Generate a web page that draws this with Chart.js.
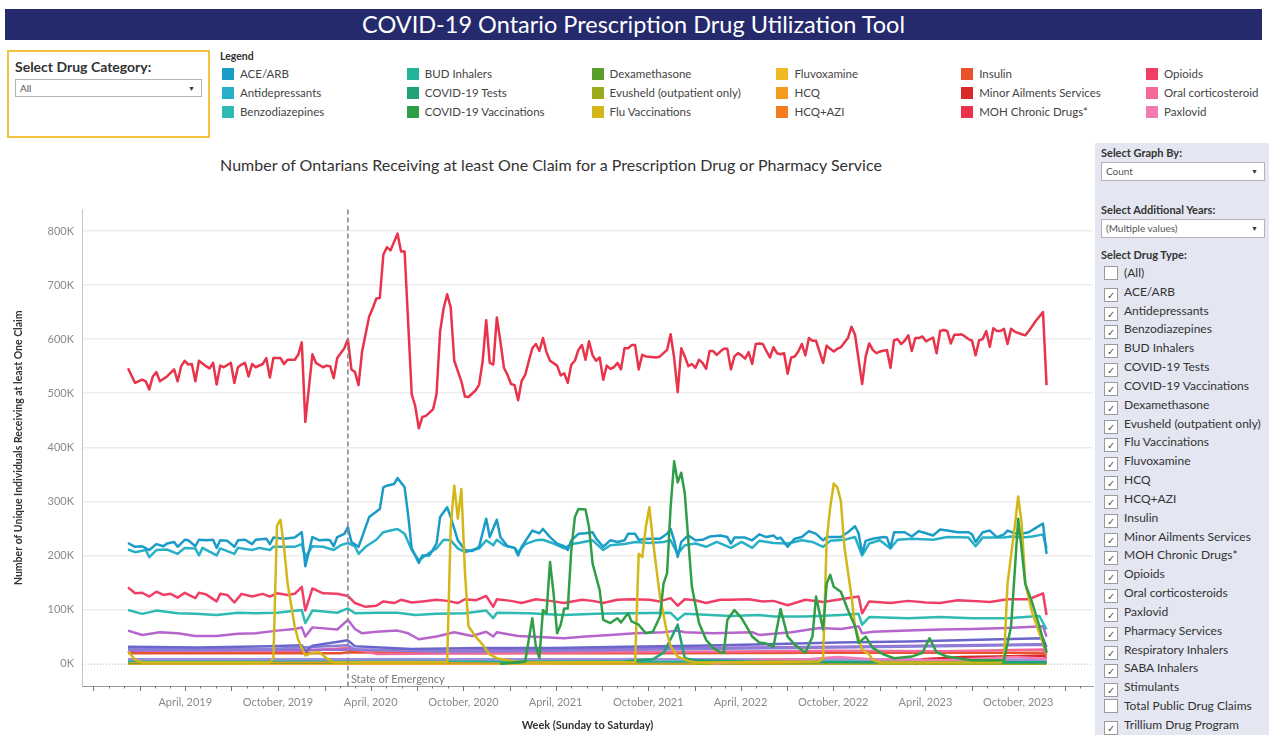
<!DOCTYPE html>
<html>
<head>
<meta charset="utf-8">
<script src="https://cdn.jsdelivr.net/npm/chart.js@4.4.1/dist/chart.umd.min.js"></script>
<style>
  body { margin: 0; width: 1269px; height: 735px; overflow: hidden; background: #fff; font-family: Lato, "Noto Sans", sans-serif; color: #333; position: relative; }
  .abs { position: absolute; }
  #titlebar { left: 5px; top: 9px; width: 1257px; height: 31px; background: #242a6c; color: #fff; font-size: 23.5px; line-height: 31px; text-align: center; }
  #catbox { left: 7px; top: 50px; width: 203px; height: 88px; border: 2px solid #f1c23d; box-sizing: border-box; }
  .drop { background: #fff; border: 1px solid #b4b4b4; box-sizing: border-box; font-size: 10px; color: #555; padding-left: 4px; }
  .drop .arr { position: absolute; right: 6px; top: 0; font-size: 7px; color: #333; }
  .lg { font-size: 11.5px; color: #444; white-space: nowrap; height: 14px; line-height: 14px; }
  .lg i { display: inline-block; width: 12px; height: 12px; vertical-align: -2px; margin-right: 6px; }
  #side { left: 1095px; top: 143px; width: 174px; height: 592px; background: #e4e6f1; }
  .sl { font-size: 11px; font-weight: bold; color: #333; }
  .cb { font-size: 12px; color: #333; white-space: nowrap; height: 16px; line-height: 16px; }
  .cb b { display: inline-block; width: 12px; height: 12px; background: #fff; border: 1px solid #9a9a9a; vertical-align: -3px; margin-right: 6px; font-size: 10px; line-height: 12px; text-align: center; font-weight: normal; color: #555; box-sizing: content-box; }
  #chartTitle { left: 0; width: 1102px; top: 155px; text-align: center; font-size: 16px; color: #333; }
  #wrap { left: 0; top: 195px; width: 1095px; height: 540px; }
</style>
</head>
<body>
<div id="titlebar" class="abs">COVID-19 Ontario Prescription Drug Utilization Tool</div>

<div id="catbox" class="abs"></div>
<div class="abs" style="left:15px;top:58px;font-size:14px;font-weight:bold;color:#333;">Select Drug Category:</div>
<div class="abs drop" style="left:15px;top:79px;width:187px;height:18px;line-height:16px;">All<span class="arr">&#9660;</span></div>

<div class="abs" style="left:220px;top:50px;font-size:10.5px;font-weight:bold;color:#333;">Legend</div>
<div id="legend"></div>

<div id="chartTitle" class="abs">Number of Ontarians Receiving at least One Claim for a Prescription Drug or Pharmacy Service</div>

<div id="wrap" class="abs"><canvas id="chart" width="1095" height="540"></canvas></div>

<div id="side" class="abs"></div>
<div id="sidebar"></div>

<script>
// weekly counts, in thousands of people; x = week number counted from the week of 2018-12-09
const axisOrigin = Date.UTC(2018, 11, 9);
const emergencyWeek = 62;

const mohChronic = [[0,546],[2,519],[4,525],[5,522],[6,507],[7,531],[8,539],[9,522],[11,531],[13,544],[14,522],[15,550],[16,560],[17,553],[18,554],[19,522],[20,560],[22,550],[23,546],[24,556],[25,516],[26,551],[27,548],[29,556],[30,519],[31,548],[32,553],[33,556],[34,531],[35,554],[36,548],[38,554],[39,565],[40,529],[41,565],[43,565],[44,554],[45,562],[47,562],[48,571],[49,594],[50,447],[52,572],[53,556],[55,548],[56,551],[57,550],[58,528],[59,565],[61,583],[62,600],[63,544],[64,539],[65,515],[66,577],[68,642],[69,657],[70,675],[71,676],[72,756],[73,770],[74,764],[76,795],[77,762],[78,762],[80,498],[81,476],[82,435],[83,456],[84,458],[86,470],[87,498],[88,614],[89,657],[90,683],[91,658],[92,560],[94,522],[95,494],[96,493],[97,499],[98,505],[99,516],[100,559],[101,635],[102,556],[103,553],[104,640],[105,596],[106,547],[107,534],[108,517],[109,515],[110,487],[111,523],[112,534],[113,559],[114,583],[115,591],[116,578],[117,602],[118,576],[119,560],[121,551],[122,533],[123,537],[124,519],[125,553],[126,560],[127,580],[128,589],[129,562],[130,596],[131,570],[132,560],[133,566],[134,525],[135,551],[136,545],[137,548],[138,556],[139,544],[140,583],[141,583],[142,589],[143,589],[144,544],[145,571],[146,568],[149,566],[150,568],[152,580],[153,609],[154,565],[155,502],[156,583],[157,568],[158,550],[159,554],[160,547],[161,562],[162,556],[163,545],[164,578],[165,578],[166,571],[167,577],[168,582],[169,582],[170,544],[171,568],[172,574],[173,570],[174,564],[175,576],[176,554],[177,591],[178,592],[179,591],[180,578],[181,566],[182,585],[183,574],[184,572],[185,574],[186,536],[187,566],[188,568],[189,577],[190,591],[191,570],[192,602],[193,597],[194,597],[196,556],[197,588],[198,582],[199,577],[200,582],[201,585],[203,602],[204,623],[205,608],[207,517],[208,568],[209,592],[210,580],[211,574],[212,577],[214,580],[215,547],[216,598],[217,600],[218,591],[219,597],[220,607],[221,578],[222,602],[223,602],[224,605],[225,596],[227,603],[228,574],[229,615],[230,617],[231,615],[232,592],[233,608],[234,608],[235,609],[236,605],[237,600],[238,597],[239,570],[240,598],[241,600],[242,615],[243,586],[244,620],[245,615],[246,615],[247,619],[248,591],[249,619],[250,614],[252,609],[253,607],[254,615],[256,634],[258,650],[259,515]];

const aceArb = [[0,223],[2,216],[4,217],[6,210],[8,221],[10,217],[11,222],[13,225],[14,216],[16,229],[17,228],[19,217],[20,229],[22,228],[24,229],[25,214],[26,228],[28,227],[30,216],[31,228],[33,229],[35,221],[36,229],[39,231],[40,221],[41,233],[44,231],[47,233],[49,243],[50,180],[52,234],[54,228],[56,229],[57,228],[58,217],[59,234],[61,240],[62,252],[63,225],[65,216],[66,234],[68,271],[71,286],[72,326],[73,329],[75,332],[76,343],[78,326],[79,274],[80,213],[82,186],[83,200],[85,200],[87,222],[88,271],[90,289],[91,271],[93,228],[95,210],[97,208],[99,216],[101,268],[102,234],[104,266],[105,234],[107,217],[109,214],[110,200],[111,216],[114,246],[116,241],[117,249],[119,234],[121,222],[123,217],[124,210],[125,228],[127,240],[129,241],[131,243],[132,231],[134,216],[136,228],[138,225],[140,228],[141,240],[143,240],[144,229],[147,231],[150,231],[152,240],[153,249],[154,228],[155,197],[156,225],[158,237],[160,228],[162,229],[164,235],[167,237],[169,234],[170,222],[171,233],[174,233],[176,228],[178,239],[180,234],[182,237],[183,231],[184,233],[186,216],[188,231],[190,234],[192,245],[194,240],[196,228],[197,234],[201,234],[203,243],[205,254],[206,241],[207,203],[208,227],[210,231],[213,234],[214,233],[215,214],[216,243],[219,243],[221,235],[223,245],[225,241],[227,237],[229,248],[231,246],[234,243],[237,243],[238,239],[239,225],[241,243],[243,246],[245,234],[247,239],[248,246],[250,241],[252,240],[254,243],[256,251],[258,259],[259,203]];

const antidepressants = [[0,211],[2,206],[5,210],[6,197],[8,210],[11,211],[14,203],[16,214],[19,213],[20,200],[21,214],[25,200],[26,213],[30,203],[31,214],[35,210],[37,214],[40,210],[41,216],[47,216],[49,221],[50,197],[52,217],[55,216],[58,210],[60,219],[62,223],[64,217],[65,203],[67,216],[70,229],[72,243],[74,246],[76,249],[78,240],[80,210],[82,191],[85,205],[87,213],[89,229],[91,228],[93,213],[95,206],[97,210],[99,213],[101,228],[103,219],[104,229],[106,219],[109,214],[110,206],[112,221],[115,228],[117,229],[120,222],[123,213],[125,221],[127,223],[131,228],[134,210],[136,219],[140,221],[143,225],[147,223],[151,225],[153,228],[155,203],[157,219],[160,222],[163,216],[166,225],[170,214],[173,225],[176,214],[178,227],[182,223],[186,222],[190,228],[193,225],[196,216],[198,227],[202,229],[205,234],[207,200],[209,222],[212,228],[215,213],[217,229],[221,231],[227,229],[231,234],[237,233],[239,217],[241,233],[247,233],[249,235],[252,233],[255,235],[258,239],[259,213]];

const opioids = [[0,141],[2,130],[4,131],[6,124],[8,133],[10,127],[12,129],[14,122],[16,131],[19,121],[20,131],[22,128],[25,115],[26,129],[28,127],[30,113],[32,129],[35,124],[38,129],[40,124],[42,130],[45,127],[47,129],[49,142],[50,98],[52,139],[55,130],[59,129],[62,125],[64,112],[67,105],[70,107],[72,115],[75,112],[77,118],[80,113],[83,115],[87,118],[90,116],[93,112],[95,119],[98,117],[101,125],[103,105],[104,119],[108,116],[111,112],[115,119],[119,116],[123,112],[128,118],[131,116],[134,112],[138,118],[142,119],[147,118],[150,115],[153,121],[155,107],[157,119],[160,117],[163,112],[167,118],[170,118],[175,119],[179,115],[182,116],[186,108],[191,118],[196,114],[201,119],[206,124],[207,93],[209,115],[215,112],[220,116],[225,113],[229,112],[234,117],[238,116],[243,114],[248,119],[254,119],[258,130],[259,90]];

const benzodiazepines = [[0,99],[4,92],[8,98],[14,93],[19,92],[25,90],[31,94],[36,93],[42,94],[49,99],[50,75],[52,98],[59,94],[62,102],[64,93],[70,94],[76,94],[81,90],[87,92],[95,93],[101,98],[103,84],[104,94],[113,93],[123,90],[132,92],[142,93],[153,94],[155,81],[157,92],[170,88],[178,90],[182,87],[191,87],[201,90],[206,92],[207,72],[209,86],[220,84],[229,86],[238,84],[248,84],[257,88],[259,63]];

const pharmacyServices = [[0,61],[4,53],[9,58],[14,56],[19,51],[25,51],[31,55],[36,56],[42,61],[47,64],[49,67],[50,50],[52,67],[59,63],[62,81],[64,64],[66,56],[70,59],[76,61],[79,56],[82,45],[87,50],[92,58],[97,51],[101,59],[103,50],[104,58],[110,51],[116,49],[123,47],[129,50],[136,53],[143,56],[151,58],[155,61],[157,58],[165,56],[176,58],[178,53],[187,58],[195,66],[201,64],[206,69],[207,56],[210,59],[220,61],[229,63],[238,64],[248,66],[258,69],[259,50]];

const respiratoryInhalers = [[0,31],[20,30],[40,32],[49,34],[50,22],[52,33],[62,43],[64,32],[80,27],[100,29],[120,29],[140,31],[160,33],[180,36],[200,39],[220,41],[240,44],[258,47],[259,30]];
const sabaInhalers = [[0,27],[40,27],[62,34],[64,26],[90,22],[120,24],[160,27],[200,30],[240,33],[258,35],[259,22]];
const stimulants = [[0,24],[50,25],[62,26],[90,24],[140,28],[200,31],[258,36],[259,25]];
const oralCorticosteroids = [[0,25],[49,24],[62,29],[70,18],[100,19],[130,21],[160,22],[200,24],[230,23],[258,26],[259,18]];
const paxlovid = [[165,0],[172,3],[180,8],[190,7],[200,12],[210,8],[230,6],[250,12],[259,9]];
const insulin = [[0,19],[60,19],[62,21],[100,19],[150,19],[200,20],[258,20],[259,15]];
const minorAilments = [[222,0],[224,8],[235,12],[245,13],[258,15],[259,10]];
const trillium = [[0,8],[100,8],[200,8],[259,7]];
const budInhalers = [[0,5],[62,6],[120,4],[200,4],[259,4]];
const hcq = [[0,3],[60,3],[63,7],[66,2],[120,2],[259,2]];
const dexamethasone = [[0,1],[80,2],[150,1],[259,1]];
const evusheld = [[160,0],[200,1],[259,0]];
const fluvoxamine = [[0,0.5],[259,0.5]];
const hcqAzi = [[0,0],[259,0]];

const fluVaccinations = [[0,23],[2,7],[4,2],[40,2],[41,10],[42,255],[43,266],[44,216],[45,148],[47,69],[48,44],[50,15],[52,20],[54,21],[56,10],[58,2],[90,3],[91,254],[92,329],[93,268],[94,323],[95,170],[96,69],[98,50],[100,35],[102,17],[104,10],[108,5],[112,2],[143,3],[144,203],[145,197],[146,252],[147,289],[148,228],[150,124],[152,56],[153,32],[155,13],[158,5],[160,2],[195,4],[196,10],[197,228],[198,289],[199,333],[200,326],[201,301],[202,216],[204,124],[205,69],[207,26],[209,17],[210,7],[212,2],[246,2],[247,7],[248,148],[250,252],[251,309],[252,259],[253,148],[255,93],[257,56],[259,20]];

const covidVaccinations = [[105,0],[112,4],[114,84],[115,32],[116,10],[117,99],[118,93],[119,188],[120,130],[121,56],[122,72],[123,102],[124,102],[125,210],[126,271],[127,286],[129,285],[130,252],[131,185],[133,136],[134,81],[136,75],[138,84],[139,76],[141,93],[142,78],[144,72],[146,56],[148,59],[150,87],[151,148],[152,167],[153,289],[154,374],[155,335],[156,353],[157,314],[158,228],[159,142],[161,75],[163,44],[165,29],[167,21],[168,20],[169,81],[171,99],[173,84],[175,62],[176,50],[178,39],[180,37],[182,31],[184,101],[186,50],[188,35],[191,20],[193,50],[194,124],[196,63],[197,148],[198,164],[199,142],[201,133],[203,99],[205,69],[206,38],[208,50],[210,29],[213,17],[216,10],[221,13],[224,20],[226,47],[228,21],[231,13],[238,6],[247,6],[249,69],[250,167],[251,268],[252,210],[253,148],[255,112],[257,69],[259,20]];

const covidTests = [[105,0],[113,3],[140,4],[148,8],[151,20],[153,45],[155,72],[156,40],[157,10],[160,6],[175,4],[190,3],[220,2],[259,2]];

// name, colour, values (first drawn on top)
const series = [
  ['COVID-19 Vaccinations', '#2f9e47', covidVaccinations],
  ['Flu Vaccinations', '#d3b719', fluVaccinations],
  ['COVID-19 Tests', '#1fa374', covidTests],
  ['MOH Chronic Drugs*', '#e8334a', mohChronic],
  ['ACE/ARB', '#1b9bc8', aceArb],
  ['Antidepressants', '#28b0c8', antidepressants],
  ['Opioids', '#f03f66', opioids],
  ['Benzodiazepines', '#2dbbb2', benzodiazepines],
  ['Pharmacy Services', '#b565cb', pharmacyServices],
  ['Respiratory Inhalers', '#6a66cc', respiratoryInhalers],
  ['SABA Inhalers', '#8a7fd6', sabaInhalers],
  ['Stimulants', '#a46ad2', stimulants],
  ['Oral corticosteroids', '#f4679a', oralCorticosteroids],
  ['Paxlovid', '#f07bb5', paxlovid],
  ['Insulin', '#e8532b', insulin],
  ['Minor Ailments Services', '#d92a2a', minorAilments],
  ['Trillium Drug Program', '#9b8fdc', trillium],
  ['BUD Inhalers', '#22b496', budInhalers],
  ['HCQ', '#f39b1e', hcq],
  ['Dexamethasone', '#5a9f2c', dexamethasone],
  ['Evusheld (outpatient only)', '#9aaa1c', evusheld],
  ['Fluvoxamine', '#f0b822', fluvoxamine],
  ['HCQ+AZI', '#f47c1c', hcqAzi]
];

const legendItems = [
  ['ACE/ARB', '#1b9bc8'], ['Antidepressants', '#28aec6'], ['Benzodiazepines', '#2dbbb2'],
  ['BUD Inhalers', '#22b496'], ['COVID-19 Tests', '#1fa374'], ['COVID-19 Vaccinations', '#2f9e47'],
  ['Dexamethasone', '#5a9f2c'], ['Evusheld (outpatient only)', '#9aaa1c'], ['Flu Vaccinations', '#d3b719'],
  ['Fluvoxamine', '#f0b822'], ['HCQ', '#f39b1e'], ['HCQ+AZI', '#f47c1c'],
  ['Insulin', '#e8532b'], ['Minor Ailments Services', '#d92a2a'], ['MOH Chronic Drugs*', '#e8334a'],
  ['Opioids', '#f03f66'], ['Oral corticosteroid', '#f4679a'], ['Paxlovid', '#f07bb5']
];

const drugTypes = ['(All)', 'ACE/ARB', 'Antidepressants', 'Benzodiazepines', 'BUD Inhalers', 'COVID-19 Tests',
  'COVID-19 Vaccinations', 'Dexamethasone', 'Evusheld (outpatient only)', 'Flu Vaccinations', 'Fluvoxamine',
  'HCQ', 'HCQ+AZI', 'Insulin', 'Minor Ailments Services', 'MOH Chronic Drugs*', 'Opioids', 'Oral corticosteroids',
  'Paxlovid', 'Pharmacy Services', 'Respiratory Inhalers', 'SABA Inhalers', 'Stimulants',
  'Total Public Drug Claims', 'Trillium Drug Program'];
const uncheckedTypes = ['(All)', 'Total Public Drug Claims'];

const tickDates = ['2019-04-01', '2019-10-01', '2020-04-01', '2020-10-01', '2021-04-01', '2021-10-01', '2022-04-01', '2022-10-01', '2023-04-01', '2023-10-01'];
const tickLabels = ['April, 2019', 'October, 2019', 'April, 2020', 'October, 2020', 'April, 2021', 'October, 2021', 'April, 2022', 'October, 2022', 'April, 2023', 'October, 2023'];
const yTicks = [0, 100, 200, 300, 400, 500, 600, 700, 800];

const weekOf = (t) => (t - axisOrigin) / (7 * 864e5);
const tickWeeks = tickDates.map(d => weekOf(Date.parse(d)));

// legend
const legend = document.getElementById('legend');
legendItems.forEach(([name, color], i) => {
  const col = Math.floor(i / 3), row = i % 3;
  const el = document.createElement('div');
  el.className = 'abs lg';
  el.style.left = (222 + col * 184.8) + 'px';
  el.style.top = (67 + row * 19) + 'px';
  el.innerHTML = '<i style="background:' + color + '"></i>' + name;
  legend.appendChild(el);
});

// right side filters
const side = document.getElementById('sidebar');
side.innerHTML =
  '<div class="abs sl" style="left:1101px;top:146px">Select Graph By:</div>' +
  '<div class="abs drop" style="left:1101px;top:162px;width:164px;height:19px;line-height:17px">Count<span class="arr">&#9660;</span></div>' +
  '<div class="abs sl" style="left:1101px;top:203px">Select Additional Years:</div>' +
  '<div class="abs drop" style="left:1101px;top:219px;width:164px;height:19px;line-height:17px">(Multiple values)<span class="arr">&#9660;</span></div>' +
  '<div class="abs sl" style="left:1101px;top:248px">Select Drug Type:</div>';
drugTypes.forEach((name, i) => {
  const el = document.createElement('div');
  el.className = 'abs cb';
  el.style.left = '1104px';
  el.style.top = (265 + i * 18.83) + 'px';
  const mark = uncheckedTypes.includes(name) ? '' : '&#10003;';
  el.innerHTML = '<b>' + mark + '</b>' + name;
  side.appendChild(el);
});

// axis decorations: month tick marks, dotted zero line, state of emergency marker
const decorations = {
  id: 'decorations',
  beforeDatasetsDraw(chart) {
    const {ctx, chartArea, scales: {y}} = chart;
    const y0 = y.getPixelForValue(0);
    ctx.save();
    ctx.strokeStyle = '#b0b0b0';
    ctx.lineWidth = 1;
    ctx.setLineDash([1, 2]);
    ctx.beginPath();
    ctx.moveTo(chartArea.left, y0 + 0.5);
    ctx.lineTo(chartArea.right, y0 + 0.5);
    ctx.stroke();
    ctx.restore();
  },
  afterDatasetsDraw(chart) {
    const {ctx, chartArea, scales: {x}} = chart;
    ctx.save();
    // month ticks
    ctx.strokeStyle = '#777';
    ctx.lineWidth = 1;
    for (let yr = 2018; yr <= 2024; yr++) {
      for (let m = 0; m < 12; m++) {
        const w = weekOf(Date.UTC(yr, m, 1));
        if (w < x.min || w > x.max) continue;
        const px = Math.round(x.getPixelForValue(w)) + 0.5;
        const len = m % 3 === 0 ? 5 : 2.5;
        ctx.beginPath();
        ctx.moveTo(px, chartArea.bottom);
        ctx.lineTo(px, chartArea.bottom + len);
        ctx.stroke();
      }
    }
    // state of emergency
    const ex = x.getPixelForValue(emergencyWeek);
    ctx.strokeStyle = '#8c8c8c';
    ctx.lineWidth = 1.6;
    ctx.setLineDash([5, 3]);
    ctx.beginPath();
    ctx.moveTo(ex, chartArea.top);
    ctx.lineTo(ex, chartArea.bottom);
    ctx.stroke();
    ctx.setLineDash([]);
    ctx.fillStyle = '#7a7a7a';
    ctx.font = '11px Lato, "Noto Sans", sans-serif';
    ctx.textBaseline = 'middle';
    ctx.fillText('State of Emergency', ex + 3, chartArea.bottom - 7);
    ctx.restore();
  }
};

new Chart(document.getElementById('chart'), {
  type: 'line',
  data: {
    datasets: series.map(([name, color, values]) => ({
      label: name,
      data: values.map(([x, y]) => ({x, y})),
      borderColor: color,
      backgroundColor: color,
      borderWidth: 2.5,
      pointRadius: 0,
      tension: 0,
      fill: false,
      borderJoinStyle: 'round'
    }))
  },
  options: {
    responsive: false,
    animation: false,
    devicePixelRatio: 1,
    layout: { padding: { top: 12, right: 2, left: 0, bottom: 0 } },
    plugins: { legend: { display: false }, tooltip: { enabled: false } },
    scales: {
      x: {
        type: 'linear',
        min: -12.97,
        max: 272.1,
        afterFit: (a) => { a.height = 49; },
        afterBuildTicks: (a) => { a.ticks = tickWeeks.map(v => ({value: v})); },
        grid: { display: false, drawTicks: false },
        border: { display: true, color: '#9a9a9a', width: 1 },
        ticks: {
          autoSkip: false, maxRotation: 0, padding: 10, color: '#8a8a8a',
          font: { size: 11, family: 'Lato, "Noto Sans", sans-serif' },
          callback: (v, i) => tickLabels[i]
        },
        title: {
          display: true, text: 'Week (Sunday to Saturday)', color: '#333',
          font: { size: 11, weight: 'bold', family: 'Lato, "Noto Sans", sans-serif' },
          padding: { top: 0, bottom: 3 }
        }
      },
      y: {
        min: -41.4,
        max: 839.5,
        afterFit: (a) => { a.width = 82; },
        afterBuildTicks: (a) => { a.ticks = yTicks.map(v => ({value: v})); },
        grid: {
          drawTicks: false, lineWidth: 1.5,
          color: (c) => (c.tick && c.tick.value === 0) ? 'rgba(0,0,0,0)' : '#ededed'
        },
        border: { display: true, color: '#c4c4c4', width: 1 },
        ticks: {
          padding: 8, color: '#8a8a8a',
          font: { size: 11, family: 'Lato, "Noto Sans", sans-serif' },
          callback: (v) => v + 'K'
        },
        title: {
          display: true, text: 'Number of Unique Individuals Receiving at least One Claim', color: '#333',
          font: { size: 10.5, weight: 'bold', family: 'Lato, "Noto Sans", sans-serif' },
          padding: { top: 12, bottom: 0 }
        }
      }
    }
  },
  plugins: [decorations]
});
</script>
</body>
</html>
